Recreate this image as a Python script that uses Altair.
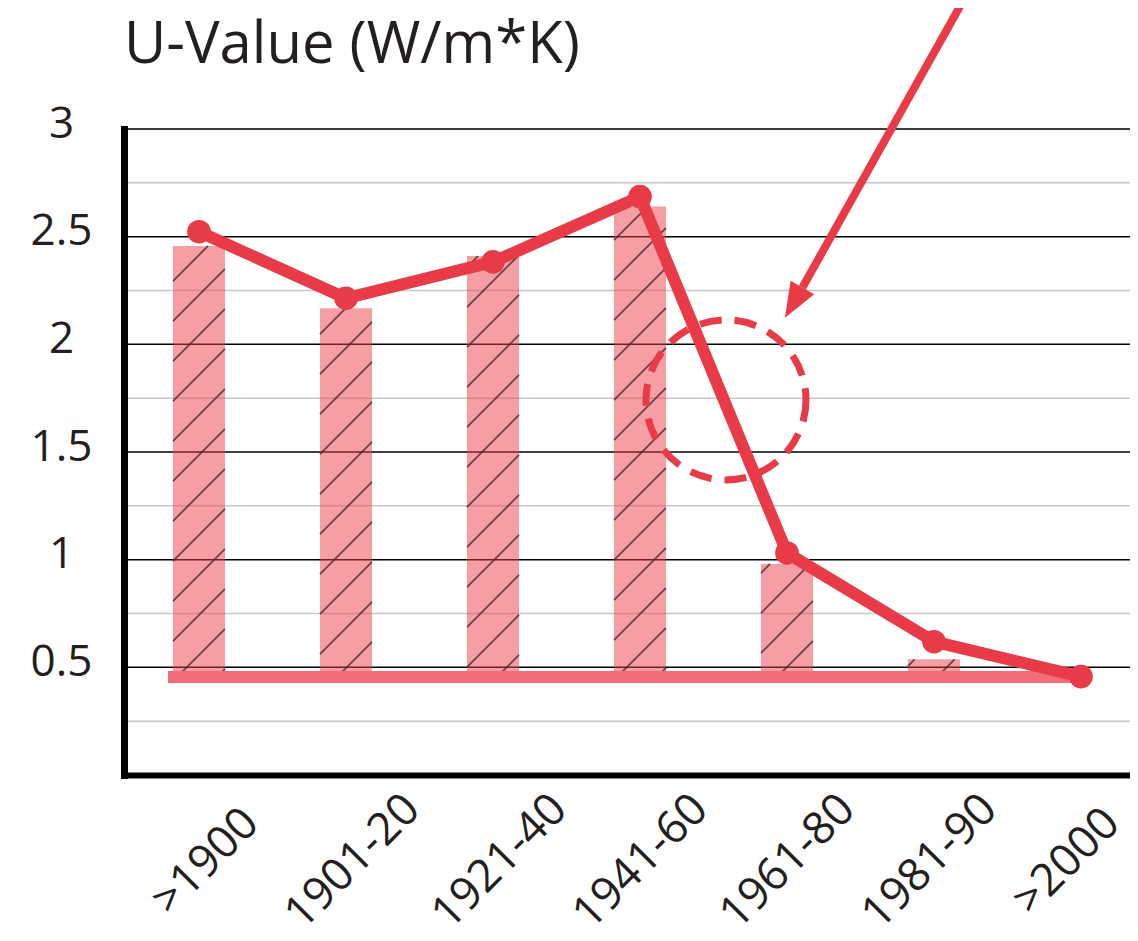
import json
import math
import altair as alt
import pandas as pd

# ---------------- data ----------------
categories = [">1900", "1901-20", "1921-40", "1941-60", "1961-80", "1981-90", ">2000"]
bar_values = [2.457, 2.167, 2.41, 2.64, 0.98, 0.537, None]
line_values = [2.523, 2.214, 2.383, 2.686, 1.031, 0.619, 0.457]
baseline_value = 0.455
baseline_span = [-0.211, 6.0]
y_major = [0.5, 1.0, 1.5, 2.0, 2.5, 3.0]
y_minor = [0.25, 0.75, 1.25, 1.75, 2.25, 2.75]
title_text = "U-Value (W/m*K)"

# annotation anchors (data units)
circle_x = [3.585]
circle_y = [1.742]
arrow_x = [5.218]
arrow_y = [3.62]
arrow_base_x = [4.105]
arrow_base_y = [2.264]
arrow_tip_x = [3.986]
arrow_tip_y = [2.123]

# ---------------- layout ----------------
W, H = 1006, 646
STEP = 147.0
X0 = -75.0 / STEP
X1 = X0 + W / STEP
KX = W / (X1 - X0)
KY = H / 3.0
HALF = 0.177

FONT = "Open Sans"
TXT = "#231f20"
RED = "#E93A47"

x_scale = alt.Scale(domain=[X0, X1], nice=False, zero=False)
y_scale = alt.Scale(domain=[0, 3], nice=False, zero=False)

label_expr = json.dumps(categories) + "[datum.value]"

# labels sit on a slightly tighter spacing than the ticks
x_label_offset = {
    "condition": [
        {"test": "datum.value <= 2", "value": 6},
        {"test": "datum.value == 5", "value": -5},
        {"test": "datum.value == 6", "value": -15},
    ],
    "value": 0,
}

x_axis = alt.Axis(values=list(range(len(categories))), labelExpr=label_expr, title=None,
                  grid=False, ticks=False, tickSize=0, domainColor="#000000", domainWidth=6,
                  domainCap="square", labelAngle=315, labelAlign="center", labelBaseline="middle",
                  labelPadding=86, labelFont=FONT, labelFontSize=45, labelColor=TXT,
                  labelOffset=x_label_offset,
                  labelFlush=False, labelOverlap=False, labelBound=False, zindex=1)
y_axis = alt.Axis(values=y_major, format="~g", title=None, grid=False, ticks=False, tickSize=0,
                  domainColor="#000000", domainWidth=7, domainCap="square",
                  labelAlign="center", labelBaseline="middle", labelOffset=-5, labelPadding=63,
                  labelFont=FONT, labelFontSize=44, labelColor=TXT, labelFlush=False,
                  labelOverlap=False, labelBound=False, zindex=1)


def X(f):
    return alt.X(f, type="quantitative", scale=x_scale, axis=x_axis)


def Y(f):
    return alt.Y(f, type="quantitative", scale=y_scale, axis=y_axis)


# tables
idx = list(range(len(categories)))
bars_df = pd.DataFrame([
    {"lo": i - HALF, "hi": i + HALF, "top": v, "base": baseline_value}
    for i, v in zip(idx, bar_values) if v is not None
])
line_df = pd.DataFrame({"i": idx, "v": line_values, "cat": categories})
minor_df = pd.DataFrame({"y": y_minor})
major_df = pd.DataFrame({"y": y_major})
base_df = pd.DataFrame({"x": [baseline_span[0]], "x2": [baseline_span[1]], "y": [baseline_value]})
circle_df = pd.DataFrame({"x": circle_x, "y": circle_y})
arrow_df = pd.DataFrame({"x": arrow_x, "y": arrow_y, "x2": arrow_base_x, "y2": arrow_base_y})
tip_df = pd.DataFrame({"x": arrow_tip_x, "y": arrow_tip_y})
title_df = pd.DataFrame({"t": [title_text]})

# hatch segments clipped to each bar (45 degrees on screen)
rows = []
spacing = 40.0
for i, top in zip(idx, bar_values):
    if top is None:
        continue
    ul, ur = (i - HALF) * KX, (i + HALF) * KX
    vb, vt = baseline_value * KY, top * KY
    kmin = math.floor((vb - ur) / spacing)
    kmax = math.ceil((vt - ul) / spacing)
    for k in range(kmin, kmax + 1):
        c = k * spacing
        us = max(ul, vb - c)
        ue = min(ur, vt - c)
        if ue - us > 1:
            rows.append({"x": us / KX, "y": (us + c) / KY, "x2": ue / KX, "y2": (ue + c) / KY})
hatch_df = pd.DataFrame(rows)

minor = alt.Chart(minor_df).mark_rule(color="#c8c8c8", strokeWidth=1.5).encode(y=Y("y"))
major = alt.Chart(major_df).mark_rule(color="#000000", strokeWidth=1.5).encode(y=Y("y"))

bars = alt.Chart(bars_df).mark_rect(color="#EC3D4A", opacity=0.5).encode(
    x=X("lo"), x2="hi", y=Y("top"), y2="base")

hatch = alt.Chart(hatch_df).mark_rule(color="#4a2a2e", strokeWidth=1.8, opacity=0.8).encode(
    x=X("x"), y=Y("y"), x2="x2", y2="y2")

base = alt.Chart(base_df).mark_rule(color="#F26D78", strokeWidth=12, strokeCap="butt").encode(
    x=X("x"), x2="x2", y=Y("y"))

line = alt.Chart(line_df).mark_line(color=RED, strokeWidth=12, strokeJoin="round").encode(
    x=X("i"), y=Y("v"), order="i:Q")

points = alt.Chart(line_df).mark_circle(color=RED, size=560, opacity=1).encode(
    x=X("i"), y=Y("v"))

circle = alt.Chart(circle_df).mark_point(shape="circle", filled=False, color=RED, size=160 * 160,
                                         strokeWidth=7, strokeDash=[22, 13], opacity=1).encode(
    x=X("x"), y=Y("y"))

arrow = alt.Chart(arrow_df).mark_rule(color=RED, strokeWidth=8).encode(
    x=X("x"), y=Y("y"), x2="x2", y2="y2")

tip = alt.Chart(tip_df).mark_point(shape="M0,0L-0.39,-1L0.39,-1Z", filled=True, color=RED,
                                   size=4900, angle=30, opacity=1, strokeWidth=0).encode(
    x=X("x"), y=Y("y"))

title = alt.Chart(title_df).mark_text(align="left", baseline="alphabetic", font=FONT,
                                      fontSize=58, color=TXT).encode(
    text="t:N", x=alt.value(0), y=alt.value(-66))

chart = alt.layer(minor, major, bars, hatch, base, line, points, circle, arrow, tip, title).properties(
    width=W, height=H,
    autosize=alt.AutoSizeParams(type="none"),
    padding={"left": 116, "top": 121, "right": 0, "bottom": 157},
).configure_view(stroke=None).configure(background="#ffffff")

chart.save("out.html", embed_options={"renderer": "svg", "actions": False})
